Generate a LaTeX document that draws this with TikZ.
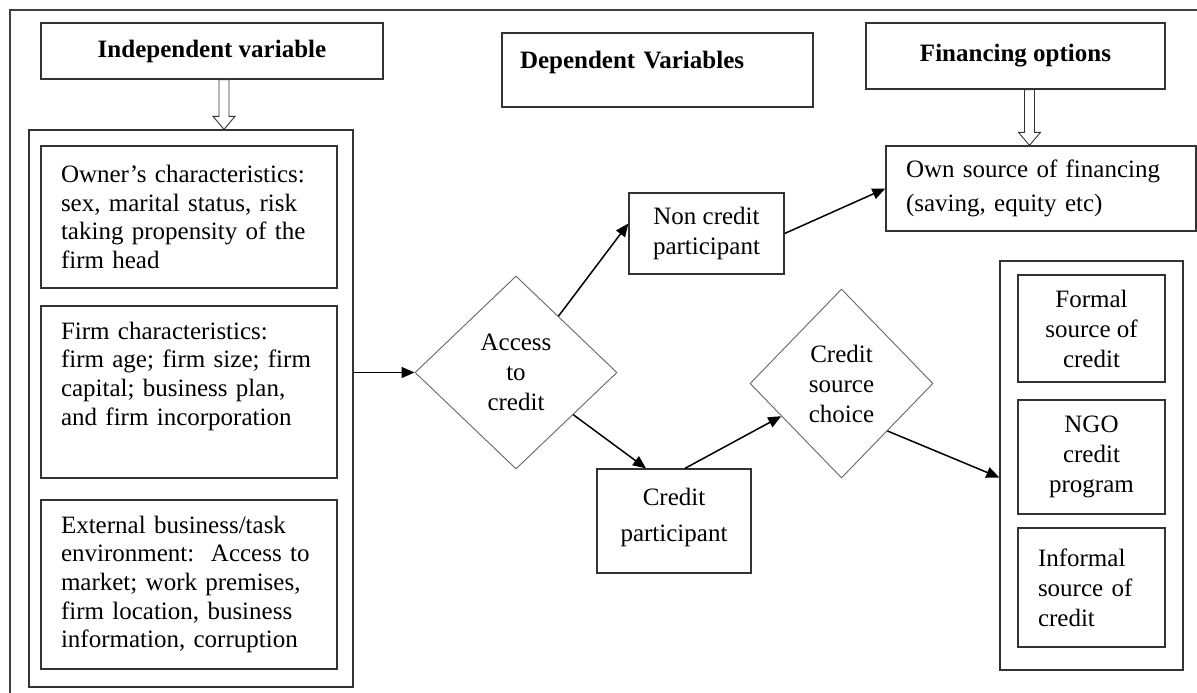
\documentclass[tikz,border=0pt]{standalone}
\usepackage{fontspec}
\setmainfont{Liberation Serif}
\usetikzlibrary{shapes.geometric,arrows.meta,calc}

\newcommand{\hollowarrow}[2]{%
  \draw[line width=0.9pt, draw=black!80, fill=white] let \p1=(#1), \p2=(#2) in
    (\x1-5pt,\y1) -- (\x1-5pt,\y2+13pt) -- (\x1-11pt,\y2+13pt) -- (\x1,\y2)
    -- (\x1+11pt,\y2+13pt) -- (\x1+5pt,\y2+13pt) -- (\x1+5pt,\y1) -- cycle;}

\begin{document}
\begin{tikzpicture}[x=1pt,y=-1pt,
    font=\fontsize{25}{30}\selectfont,
    box/.style={draw=black!80, line width=1.3pt, inner sep=0pt},
    headbox/.style={box, font=\fontsize{25}{30}\selectfont\bfseries},
    leftbox/.style={box, align=left, inner xsep=20pt, text width=256pt, minimum width=296pt,
        font=\fontsize{25}{28.7}\selectfont},
    srcbox/.style={box, align=center, minimum width=147pt},
    diam/.style={diamond, draw=black!60, line width=0.9pt, inner sep=0pt, align=center},
    arr/.style={-{Triangle[length=13pt,width=11pt]}, line width=1.5pt}]
  \useasboundingbox (0,0) rectangle (1197,693);

  % frame
  \draw[line width=1.5pt, black!75] (10,693) -- (10,10) -- (1197,10);

  % headings
  \node[headbox, minimum width=342pt, minimum height=56pt] (ind) at (212,51) {Independent variable};
  \node[headbox, align=left, inner xsep=18pt, text width=275pt, minimum height=74pt, text depth=20pt]
      (dep) at (657.5,70) {Dependent Variables};
  \node[headbox, minimum width=299pt, minimum height=66pt] (fin) at (1015.5,56) {Financing options};

  % independent variables
  \node[box, minimum width=324pt, minimum height=557pt] (grp) at (191,408.5) {};
  \node[leftbox, minimum height=142pt] (owner) at (189,217)
      {Owner’s characteristics:\\ sex, marital status, risk\\ taking propensity of the\\ firm head};
  \node[leftbox, minimum height=172pt] (firm) at (189,392)
      {Firm characteristics:\\ firm age; firm size; firm\\ capital; business plan,\\ and firm incorporation\\[8pt]\mbox{}};
  \node[leftbox, minimum height=169pt] (ext) at (189,584.5)
      {External business/task\\ environment:\ \ Access to\\ market; work premises,\\ firm location, business\\ information, corruption};

  % dependent variables
  \node[diam, minimum width=202pt, minimum height=193pt] (acc) at (516,372.5) {Access\\to\\credit};
  \node[box, align=center, minimum width=155pt, minimum height=81pt] (nc) at (706.5,233.5) {Non credit\\participant};
  \node[box, align=center, minimum width=154pt, minimum height=104pt] (cp) at (674,521) {Credit\\[6pt]participant\\[-18pt]\mbox{}};
  \node[diam, minimum width=183pt, minimum height=189pt] (csc) at (841.5,383.5) {Credit\\source\\choice};

  % financing options
  \node[box, align=left, inner xsep=20pt, text width=270pt, minimum height=85pt] (own) at (1041,188.5)
      {Own source of financing\\[4pt](saving, equity etc)};
  \node[box, minimum width=183pt, minimum height=409pt] (src) at (1091.5,465.5) {};
  \node[srcbox, minimum height=107pt] (formal) at (1091.5,328.5) {Formal\\source of\\credit};
  \node[srcbox, minimum height=114pt] (ngo) at (1091.5,457) {NGO\\credit\\program};
  \node[box, align=left, inner xsep=20pt, text width=107pt, minimum height=119pt] (inf) at (1091.5,587.5)
      {Informal\\source of\\credit};

  % connectors
  \hollowarrow{$(ind.south)+(12,0)$}{grp.north}
  \hollowarrow{$(fin.south)+(14,0)$}{own.north}
  \draw[arr] (grp.east |- acc.west) -- (acc.west);
  \draw[arr] (acc) -- ([yshift=10pt]nc.west);
  \draw[arr] (nc.east) -- (own.west);
  \draw[arr] (acc) -- ([xshift=-28pt]cp.north);
  \draw[arr] ([xshift=11pt]cp.north) -- (csc);
  \draw[arr] (csc.south east) -- ([yshift=-12pt]src.west);
\end{tikzpicture}
\end{document}
